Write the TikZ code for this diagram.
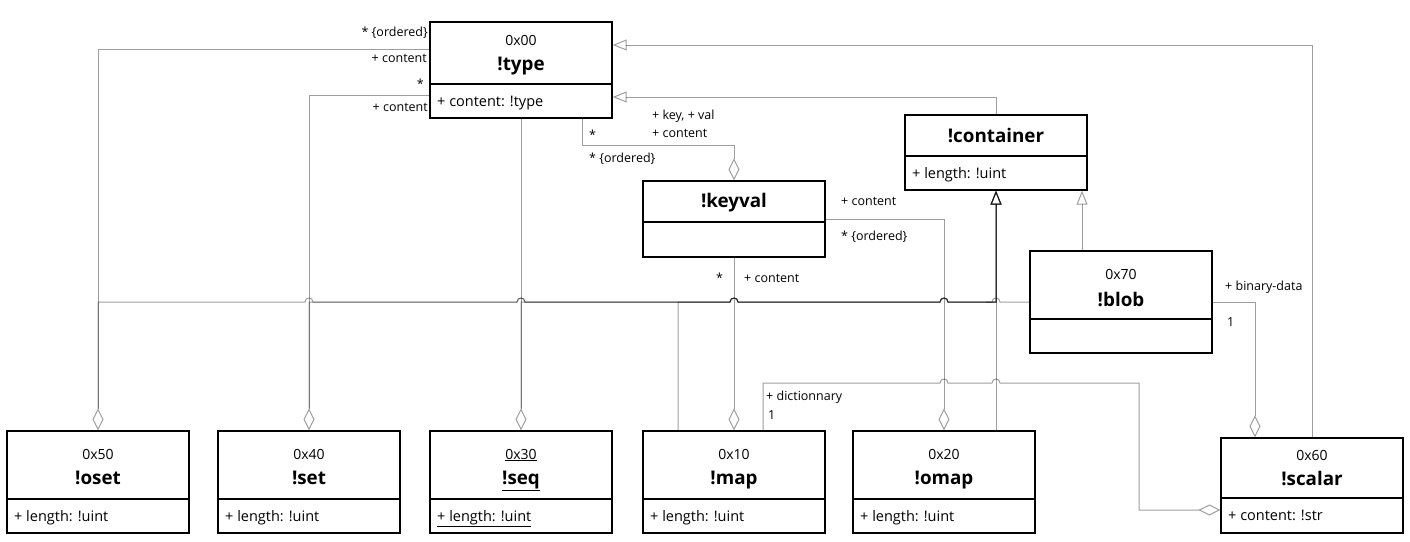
\documentclass[tikz,border=0pt]{standalone}
\usepackage{fontspec}
\setmainfont{Open Sans}
\usetikzlibrary{arrows.meta,calc}
\newcommand\jmpR[2]{-- ({#1-4},#2) .. controls ({#1-4},{#2-5.3}) and ({#1+4},{#2-5.3}) .. ({#1+4},#2)}
\newcommand\jmpL[2]{-- ({#1+4},#2) .. controls ({#1+4},{#2-5.3}) and ({#1-4},{#2-5.3}) .. ({#1-4},#2)}
\begin{document}
\begin{tikzpicture}[x=1pt,y=-1pt,
  box/.style={draw=black,line width=1.4pt,fill=white,inner sep=0pt,minimum width=182pt},
  divline/.style={draw=black,line width=1.4pt},
  conn/.style={draw=black,opacity=0.38,line width=1pt},
  agg/.style={conn,{Diamond[open,length=22pt,width=11pt]}-},
  gen/.style={conn,-{Triangle[open,length=14pt,width=11pt]}},
  lbl/.style={font=\fontsize{12.5}{14}\selectfont,inner sep=0pt},
  ster/.style={font=\fontsize{14}{16}\selectfont,inner sep=0pt,anchor=base},
  cname/.style={font=\fontsize{18.8}{22}\selectfont\bfseries,inner sep=0pt,anchor=base},
  attr/.style={font=\fontsize{14.5}{17}\selectfont,inner sep=0pt,anchor=base west},
]
\fill[white] (0,0) rectangle (1410,541);
\useasboundingbox (0,0) rectangle (1410,541);

% ---------- boxes ----------
\node[box,minimum height=96pt] (type) at (521,70) {};
\draw[divline] (type.west |- 0,84) -- (type.east |- 0,84);
\node[ster] (typeS) at (521,45) {0x00};
\node[cname] (typeN) at (521,70) {!type};
\node[attr] (typeA) at (437,106) {+ content: !type};

\node[box,minimum height=76pt] (keyval) at (734,219) {};
\draw[divline] (keyval.west |- 0,222) -- (keyval.east |- 0,222);
\node[cname] (keyvalN) at (734,207) {!keyval};

\node[box,minimum height=75pt] (container) at (996,152.5) {};
\draw[divline] (container.west |- 0,156) -- (container.east |- 0,156);
\node[cname] (containerN) at (996,142) {!container};
\node[attr] (containerA) at (912,178) {+ length: !uint};

\node[box,minimum height=102pt] (blob) at (1121,302) {};
\draw[divline] (blob.west |- 0,319) -- (blob.east |- 0,319);
\node[ster] (blobS) at (1121,279) {0x70};
\node[cname] (blobN) at (1121,306) {!blob};

\node[box,minimum height=102pt] (oset) at (98,482) {};
\draw[divline] (oset.west |- 0,499) -- (oset.east |- 0,499);
\node[ster] (osetS) at (98,459) {0x50};
\node[cname] (osetN) at (98,484) {!oset};
\node[attr] (osetA) at (14,521) {+ length: !uint};

\node[box,minimum height=102pt] (set) at (309,482) {};
\draw[divline] (set.west |- 0,499) -- (set.east |- 0,499);
\node[ster] (setS) at (309,459) {0x40};
\node[cname] (setN) at (309,484) {!set};
\node[attr] (setA) at (225,521) {+ length: !uint};

\node[box,minimum height=102pt] (seq) at (521,482) {};
\draw[divline] (seq.west |- 0,499) -- (seq.east |- 0,499);
\node[ster] (seqS) at (521,459) {\underline{0x30}};
\node[cname] (seqN) at (521,484) {\underline{!seq}};
\node[attr] (seqA) at (437,521) {\underline{+ length: !uint}};

\node[box,minimum height=102pt] (map) at (734,482) {};
\draw[divline] (map.west |- 0,499) -- (map.east |- 0,499);
\node[ster] (mapS) at (734,459) {0x10};
\node[cname] (mapN) at (734,484) {!map};
\node[attr] (mapA) at (650,521) {+ length: !uint};

\node[box,minimum height=102pt] (omap) at (944,482) {};
\draw[divline] (omap.west |- 0,499) -- (omap.east |- 0,499);
\node[ster] (omapS) at (944,459) {0x20};
\node[cname] (omapN) at (944,484) {!omap};
\node[attr] (omapA) at (860,521) {+ length: !uint};

\node[box,minimum height=95pt] (scalar) at (1312,485.5) {};
\draw[divline] (scalar.west |- 0,498) -- (scalar.east |- 0,498);
\node[ster] (scalarS) at (1312,460) {0x60};
\node[cname] (scalarN) at (1312,485) {!scalar};
\node[attr] (scalarA) at (1228,520) {+ content: !str};

% ---------- aggregations ----------
\draw[agg] (oset.north) -- (oset.north |- 0,49) -- (type.west |- 0,49);
\draw[agg] (set.north) -- (set.north |- 0,95) -- (type.west |- 0,95);
\draw[agg] (seq.north) -- (type.south);
\draw[agg] (keyval.north) -- (keyval.north |- 0,145) -- (582,145) -- (type.south -| 582,0);
\draw[agg] (omap.north) -- (omap.north |- keyval.east) -- (keyval.east);
\draw[agg] (map.north) -- (keyval.south);
\draw[agg] (scalar.west |- 0,510) -- (1139,510) -- (1139,383) \jmpL{996}{383} \jmpL{944}{383} -- (763,383) -- (map.north -| 763,0);
\draw[agg] (scalar.north -| 1255,0) -- (1255,302) -- (blob.east);

% ---------- generalizations ----------
\draw[gen] (scalar.north) -- (scalar.north |- 0,45) -- (type.east |- 0,45);
\draw[gen] (container.north) -- (container.north |- 0,97) -- (type.east |- 0,97);
\draw[gen] (blob.north -| 1082,0) -- (container.south -| 1082,0);
\draw[gen,shorten <=22pt] (oset.north) -- (oset.north |- 0,302) \jmpR{309}{302} \jmpR{521}{302} \jmpR{734}{302} \jmpR{944}{302} -- (996,302) -- (container.south);
\draw[gen,shorten <=22pt] (set.north) -- (set.north |- 0,302) \jmpR{521}{302} \jmpR{734}{302} \jmpR{944}{302} -- (996,302) -- (container.south);
\draw[gen,shorten <=22pt] (seq.north) -- (seq.north |- 0,302) \jmpR{734}{302} \jmpR{944}{302} -- (996,302) -- (container.south);
\draw[gen] (map.north -| 678,0) -- (678,302) \jmpR{734}{302} \jmpR{944}{302} -- (996,302) -- (container.south);
\draw[gen] (omap.north -| 996,0) -- (container.south);
\draw[conn] (blob.west) \jmpL{996}{302} -- (986,302);

% ---------- labels ----------
\node[lbl,anchor=base east] (l1) at (428,36) {* \{ordered\}};
\node[lbl,anchor=base east] (l2) at (427,62) {+ content};
\node[lbl,anchor=base east] (l3) at (424,88) {*};
\node[lbl,anchor=base east] (l4) at (428,111) {+ content};
\node[lbl,anchor=base west] (l5) at (589,139) {*};
\node[lbl,anchor=base west] (l6) at (589,162) {* \{ordered\}};
\node[lbl,anchor=base west] (l7) at (652,119) {+ key, + val};
\node[lbl,anchor=base west] (l8) at (652,137) {+ content};
\node[lbl,anchor=base west] (l9) at (841,205) {+ content};
\node[lbl,anchor=base west] (l10) at (841,240) {* \{ordered\}};
\node[lbl,anchor=base west] (l11) at (716,282) {*};
\node[lbl,anchor=base west] (l12) at (744,282) {+ content};
\node[lbl,anchor=base west] (l13) at (766,400) {+ dictionnary};
\node[lbl,anchor=base west] (l14) at (768,419) {1};
\node[lbl,anchor=base west] (l15) at (1225,290) {+ binary-data};
\node[lbl,anchor=base west] (l16) at (1227,326) {1};
\end{tikzpicture}
\end{document}
